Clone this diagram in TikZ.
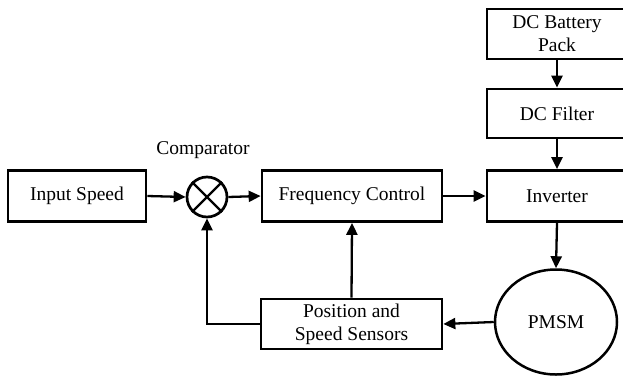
\documentclass[tikz,border=0pt]{standalone}
\usepackage{fontspec}
\setmainfont{Liberation Serif}
\usetikzlibrary{arrows.meta,shapes.geometric}
\begin{document}
\begin{tikzpicture}[x=1pt,y=-1pt,
  font=\fontsize{19.5}{23}\selectfont,
  blk/.style={draw,line width=2.7pt,inner sep=0pt,align=center,minimum height=51pt},
  arr/.style={line width=2.3pt,-{Triangle[length=12pt,width=11pt]}}]
\useasboundingbox (0,0) rectangle (623,378);
\clip (0,0) rectangle (623,378);
\node[blk,minimum width=138pt] (input) at (77,196) {Input Speed};
\node[draw,circle,line width=2.7pt,minimum size=40pt,inner sep=0pt] (comp) at (207,197) {};
\draw[line width=2.3pt] (comp.north west) -- (comp.south east) (comp.north east) -- (comp.south west);
\node (complbl) at (203,150) {Comparator};
\node[blk,minimum width=180pt] (freq) at (352,196) {Frequency Control};
\node[blk,minimum width=140pt] (inv) at (557,196) {Inverter};
\node[blk,minimum width=140pt,minimum height=49pt] (filter) at (557,113.5) {DC Filter};
\node[blk,minimum width=140pt,minimum height=50pt] (battery) at (557,34) {DC Battery\\Pack};
\node[draw,ellipse,line width=2.5pt,minimum width=122pt,minimum height=105pt,inner sep=0pt] (pmsm) at (556,322) {PMSM};
\node[blk,minimum width=181pt,minimum height=50pt] (sensors) at (351.5,324) {Position and\\Speed Sensors};
\coordinate (corner) at (207,324);
\draw[arr] (input.east) -- (comp.west);
\draw[arr] (comp.east) -- (freq.west);
\draw[arr] (freq.east) -- (inv.west);
\draw[arr] (battery.south) -- (filter.north);
\draw[arr] (filter.south) -- (inv.north);
\draw[arr] (inv.south) -- (pmsm.north);
\draw[arr] (pmsm.west) -- (sensors.east);
\draw[arr] (sensors.north) -- (freq.south);
\draw[arr] (sensors.west) -- (corner) -- (comp.south);
\end{tikzpicture}
\end{document}
